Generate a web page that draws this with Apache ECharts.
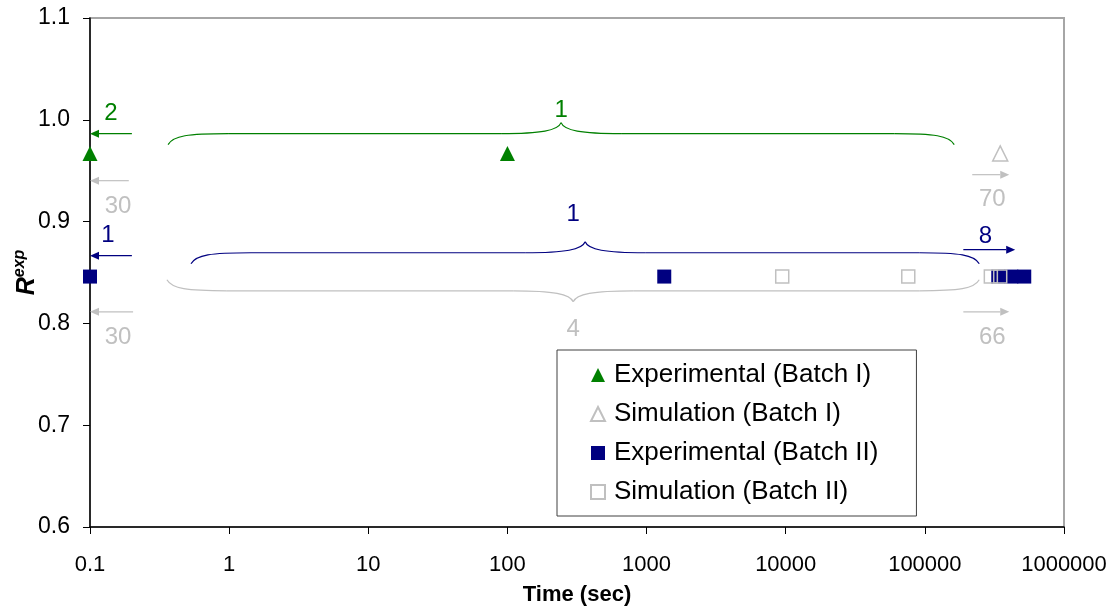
<!DOCTYPE html>
<html>
<head>
<meta charset="utf-8">
<script src="https://cdn.jsdelivr.net/npm/echarts@6/dist/echarts.min.js"></script>
<style>
  html, body { margin: 0; padding: 0; background: #fff; }
  #chart { width: 1120px; height: 610px; }
</style>
</head>
<body>
<div id="chart"></div>
<script>
// data
const xTickLabels = ['0.1', '1', '10', '100', '1000', '10000', '100000', '1000000']

const expITime = [0.1, 100]
const expIR = [0.967, 0.967]
const simITime = [348000]
const simIR = [0.967]
const expIITime = [0.1, 1340, 337000, 418000, 518000]
const expIIR = [0.846, 0.846, 0.846, 0.846, 0.846]
const simIITime = [9440, 76000, 298000, 348000]
const simIIR = [0.846, 0.846, 0.846, 0.846]

// braces (time from, time to, time of the tip, R level, label)
const braceFrom = [0.364, 0.532, 0.357]
const braceTo = [162600, 246000, 246000]
const braceTip = [243, 362, 297]
const braceR = [0.9864, 0.8694, 0.832]
const braceText = ['1', '1', '4']
const braceTextTime = [243, 297, 297]
const braceTextR = [1.009, 0.9068, 0.7937]

// arrows (time from, time to, R level, label)
const arrowFrom = [0.2, 0.19, 0.2, 0.204, 219000, 189000, 189000]
const arrowTo = [0.1, 0.1, 0.1, 0.1, 404000, 446000, 404000]
const arrowR = [0.9864, 0.9402, 0.8665, 0.8114, 0.9461, 0.8724, 0.8114]
const arrowText = ['2', '30', '1', '30', '70', '8', '66']
const arrowTextTime = [0.1416, 0.159, 0.1347, 0.159, 305000, 272000, 305000]
const arrowTextR = [1.006, 0.9147, 0.8861, 0.7858, 0.9215, 0.8851, 0.7858]

const GREEN = '#008000'
const NAVY = '#000080'
const GRAY = '#c0c0c0'
const FONT = "'Liberation Sans', Arial, sans-serif"

const braceColors = [GREEN, NAVY, GRAY]
const braceUp = [true, true, false]
const arrowColors = [GREEN, GRAY, NAVY, GRAY, GRAY, NAVY, GRAY]

const zip = (xs, ys) => xs.map((x, i) => [x, ys[i]])

const braceData = braceFrom.map((f, i) => [f, braceTo[i], braceTip[i], braceR[i], braceTextTime[i], braceTextR[i]])
const arrowData = arrowFrom.map((f, i) => [f, arrowTo[i], arrowR[i], arrowTextTime[i], arrowTextR[i]])

function curve(ax, ay, c1x, c1y, c2x, c2y, bx, by, color) {
  return {
    type: 'bezierCurve',
    shape: { x1: ax, y1: ay, cpx1: c1x, cpy1: c1y, cpx2: c2x, cpy2: c2y, x2: bx, y2: by },
    style: { stroke: color, fill: null, lineWidth: 1.2 }
  }
}

function renderBrace(params, api) {
  const i = params.dataIndex
  const color = braceColors[i]
  const s = braceUp[i] ? 1 : -1
  const a = api.coord([api.value(0), api.value(3)])
  const b = api.coord([api.value(1), api.value(3)])
  const m = api.coord([api.value(2), api.value(3)])
  const t = api.coord([api.value(4), api.value(5)])
  const y = a[1]
  const h = 11
  const w = 60
  return {
    type: 'group',
    children: [
      curve(a[0], y + s * h, a[0] + 5, y + s * 2, a[0] + 20, y, a[0] + w, y, color),
      { type: 'line', shape: { x1: a[0] + w, y1: y, x2: m[0] - w, y2: y }, style: { stroke: color, lineWidth: 1.2 } },
      curve(m[0] - w, y, m[0] - 20, y, m[0] - 3, y - s * 3, m[0], y - s * h, color),
      curve(m[0], y - s * h, m[0] + 3, y - s * 3, m[0] + 20, y, m[0] + w, y, color),
      { type: 'line', shape: { x1: m[0] + w, y1: y, x2: b[0] - w, y2: y }, style: { stroke: color, lineWidth: 1.2 } },
      curve(b[0] - w, y, b[0] - 20, y, b[0] - 5, y + s * 2, b[0], y + s * h, color),
      {
        type: 'text',
        style: {
          text: braceText[i], x: t[0], y: t[1], fill: color,
          fontSize: 24, fontFamily: FONT, align: 'center', verticalAlign: 'middle'
        }
      }
    ]
  }
}

function renderArrow(params, api) {
  const i = params.dataIndex
  const color = arrowColors[i]
  const a = api.coord([api.value(0), api.value(2)])
  const b = api.coord([api.value(1), api.value(2)])
  const t = api.coord([api.value(3), api.value(4)])
  const dir = b[0] > a[0] ? 1 : -1
  const len = 9
  return {
    type: 'group',
    children: [
      { type: 'line', shape: { x1: a[0], y1: a[1], x2: b[0] - dir * len, y2: b[1] }, style: { stroke: color, lineWidth: 1.2 } },
      {
        type: 'polygon',
        shape: { points: [[b[0], b[1]], [b[0] - dir * len, b[1] - 4], [b[0] - dir * len, b[1] + 4]] },
        style: { fill: color }
      },
      {
        type: 'text',
        style: {
          text: arrowText[i], x: t[0], y: t[1], fill: color,
          fontSize: 24, fontFamily: FONT, align: 'center', verticalAlign: 'middle'
        }
      }
    ]
  }
}

const chart = echarts.init(document.getElementById('chart'))

chart.setOption({
  animation: false,
  backgroundColor: '#fff',
  textStyle: { fontFamily: FONT },
  grid: {
    left: 90, right: 56, top: 18, bottom: 83,
    outerBoundsMode: 'none',
    containLabel: false,
    show: true, borderColor: '#a6a6a6', borderWidth: 2, backgroundColor: 'transparent'
  },
  legend: {
    left: 557, top: 350,
    orient: 'vertical',
    backgroundColor: '#fff',
    borderColor: '#404040', borderWidth: 1,
    padding: [12, 38, 11, 33],
    itemGap: 13,
    itemWidth: 14, itemHeight: 14,
    textStyle: { fontSize: 26, color: '#000', fontFamily: FONT, padding: [0, 0, 0, 4] },
    data: ['Experimental (Batch I)', 'Simulation (Batch I)', 'Experimental (Batch II)', 'Simulation (Batch II)']
  },
  xAxis: {
    type: 'log',
    logBase: 10,
    min: 0.1,
    max: 1000000,
    splitNumber: 7,
    name: 'Time (sec)',
    nameLocation: 'middle',
    nameGap: 57,
    nameMoveOverlap: false,
    nameTextStyle: { fontSize: 22, fontWeight: 'bold', color: '#000', fontFamily: FONT },
    axisLine: { onZero: false, lineStyle: { color: '#000', width: 1.5 } },
    axisTick: { show: true, inside: false, length: 7, lineStyle: { color: '#000' } },
    minorTick: { show: false },
    splitLine: { show: false },
    axisLabel: {
      margin: 27, fontSize: 22, color: '#000', fontFamily: FONT,
      formatter: v => xTickLabels[Math.round(Math.log10(v)) + 1]
    }
  },
  yAxis: {
    type: 'value',
    min: 0.6,
    max: 1.1,
    interval: 0.1,
    name: '{r|R}{s|exp}',
    nameLocation: 'middle',
    nameRotate: 90,
    nameGap: 48,
    nameMoveOverlap: false,
    nameTextStyle: {
      color: '#000',
      rich: {
        r: { fontSize: 25, fontWeight: 'bold', fontStyle: 'italic', fontFamily: FONT, color: '#000', lineHeight: 30 },
        s: { fontSize: 16, fontWeight: 'bold', fontStyle: 'italic', fontFamily: FONT, color: '#000', verticalAlign: 'top', lineHeight: 30, padding: [0, 0, 12, 0] }
      }
    },
    axisLine: { show: true, lineStyle: { color: '#000', width: 1.5 } },
    axisTick: { show: true, inside: false, length: 7, lineStyle: { color: '#000' } },
    splitLine: { show: false },
    axisLabel: {
      margin: 20, fontSize: 23, color: '#000', fontFamily: FONT,
      formatter: v => v.toFixed(1)
    }
  },
  series: [
    {
      type: 'custom',
      renderItem: renderBrace,
      data: braceData,
      encode: { x: 0, y: 3 },
      silent: true,
      z: 1
    },
    {
      type: 'custom',
      renderItem: renderArrow,
      data: arrowData,
      encode: { x: 0, y: 2 },
      silent: true,
      z: 1
    },
    {
      name: 'Experimental (Batch I)',
      type: 'scatter',
      symbol: 'triangle',
      symbolSize: 15,
      itemStyle: { color: GREEN, opacity: 1 },
      data: zip(expITime, expIR),
      z: 3
    },
    {
      name: 'Simulation (Batch I)',
      type: 'scatter',
      symbol: 'triangle',
      symbolSize: 15,
      itemStyle: { color: 'rgba(255,255,255,0)', borderColor: GRAY, borderWidth: 1.5, opacity: 1 },
      data: zip(simITime, simIR),
      z: 4
    },
    {
      name: 'Experimental (Batch II)',
      type: 'scatter',
      symbol: 'rect',
      symbolSize: 14,
      itemStyle: { color: NAVY, opacity: 1 },
      data: zip(expIITime, expIIR),
      z: 3
    },
    {
      name: 'Simulation (Batch II)',
      type: 'scatter',
      symbol: 'rect',
      symbolSize: 13,
      itemStyle: { color: 'rgba(255,255,255,0)', borderColor: GRAY, borderWidth: 1.5, opacity: 1 },
      data: zip(simIITime, simIIR),
      z: 4
    }
  ]
})
</script>
</body>
</html>
